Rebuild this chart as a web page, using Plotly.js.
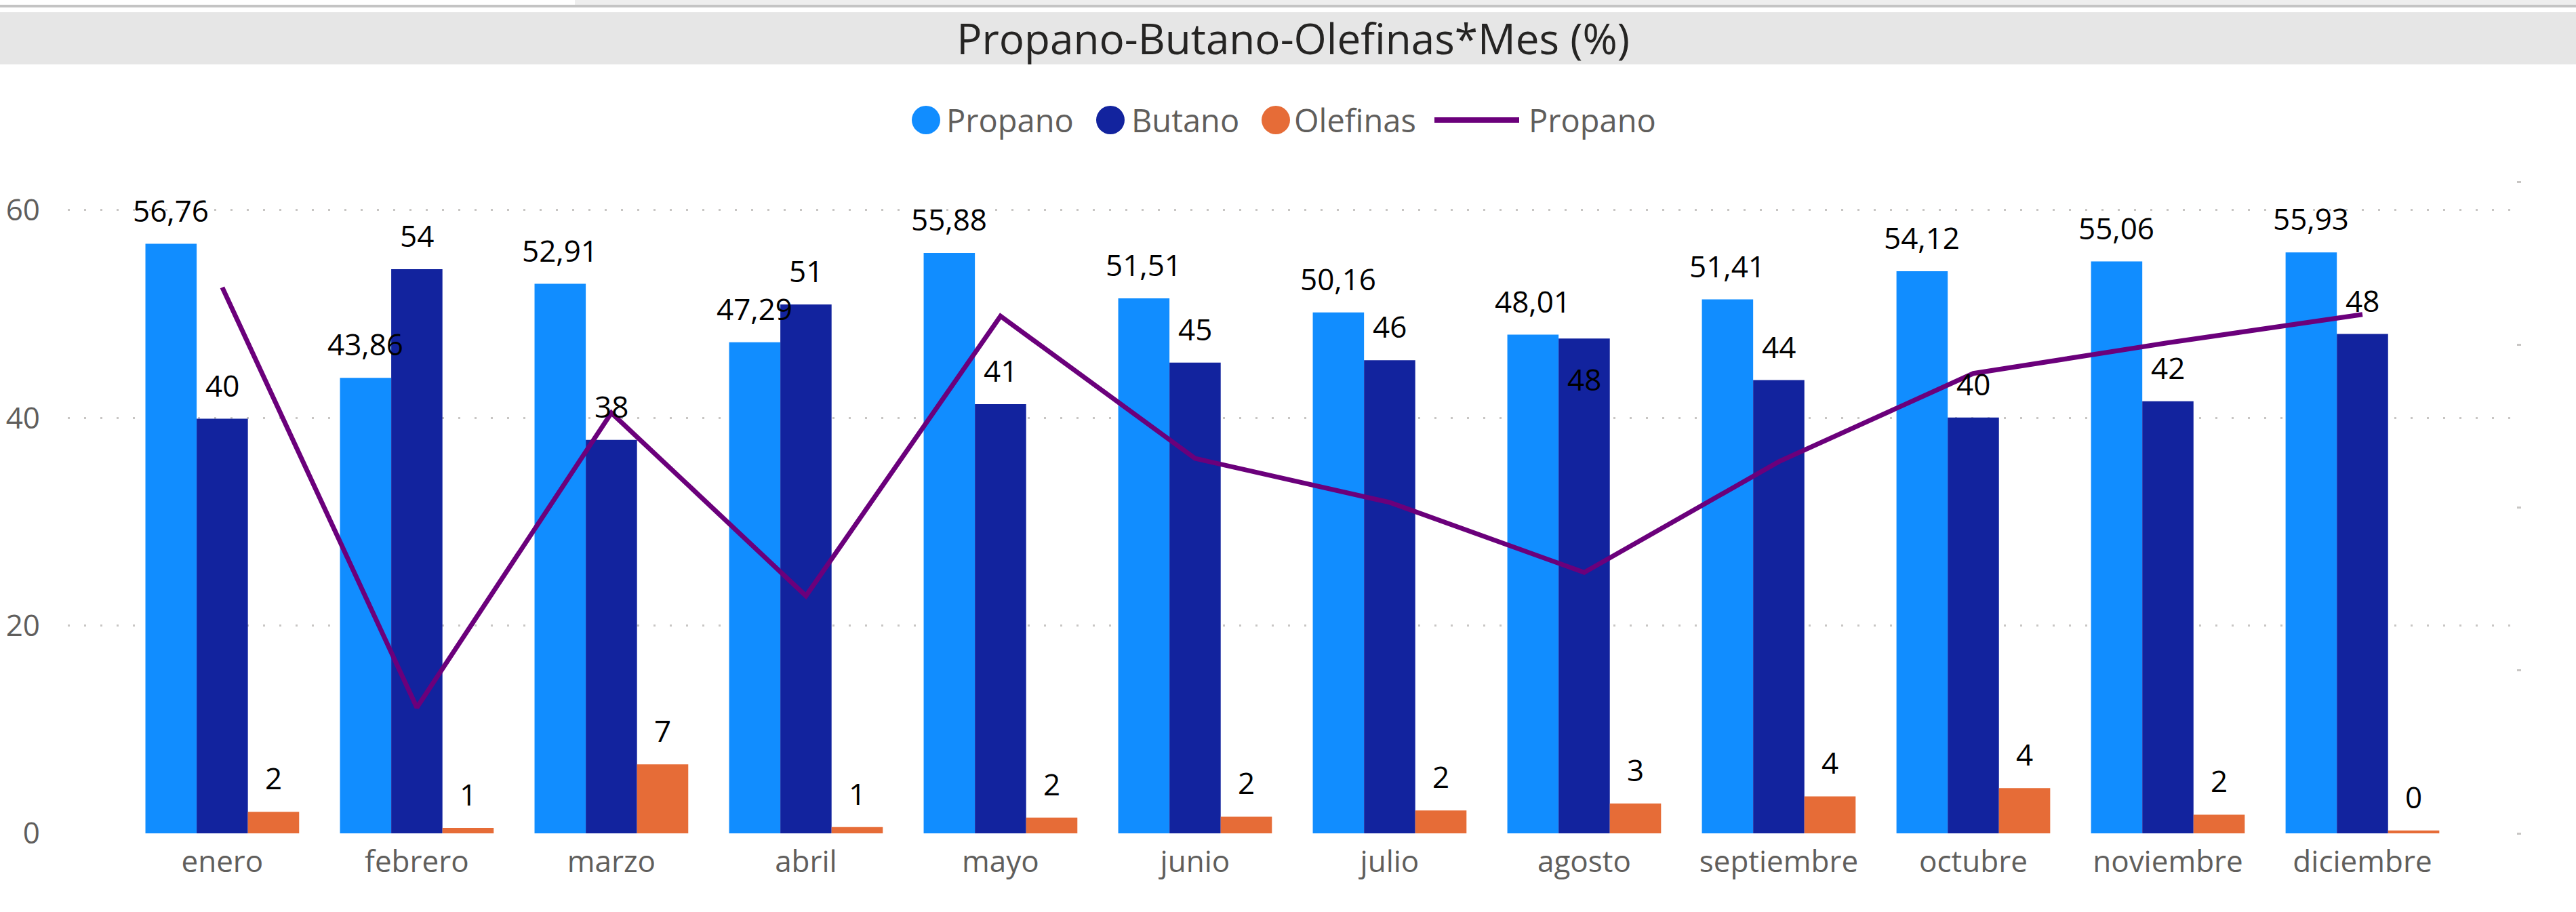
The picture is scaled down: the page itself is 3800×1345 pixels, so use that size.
<!DOCTYPE html>
<html>
<head>
<meta charset="utf-8">
<script src="https://cdn.plot.ly/plotly-3.0.1.min.js"></script>
<style>
  html, body { margin: 0; padding: 0; background: #ffffff; }
  #chart { width: 3800px; height: 1345px; }
</style>
</head>
<body>
<div id="chart"></div>
<script>
// ---------------- DATA ----------------
const months = ['enero','febrero','marzo','abril','mayo','junio','julio','agosto','septiembre','octubre','noviembre','diciembre'];
const propano = [56.76, 43.86, 52.91, 47.29, 55.88, 51.51, 50.16, 48.01, 51.41, 54.12, 55.06, 55.93];
const butano = [39.92, 54.32, 37.88, 50.92, 41.32, 45.32, 45.56, 47.64, 43.64, 40.04, 41.60, 48.08];
const olefinas = [2.08, 0.52, 6.64, 0.60, 1.52, 1.60, 2.20, 2.88, 3.56, 4.36, 1.80, 0.28];
const seriesNames = ['Propano', 'Butano', 'Olefinas', 'Propano'];
const leftTicks = [0, 20, 40, 60];
const rightTicks = [40, 45, 50, 55, 60];
const chartTitle = 'Propano-Butano-Olefinas*Mes (%)';

// ---------------- STYLE ----------------
const FONT = '"Open Sans", "Noto Sans", "DejaVu Sans", sans-serif';
const C_PROP = '#118DFF', C_BUT = '#12239E', C_OLE = '#E66C37', C_LINE = '#6B007B';
const GRID = '#C8C6C4', TICKTXT = '#605E5C';

const W = 3800, Hh = 1345;
const L = 100, R = 3712, T = 262, B = 1229;
const PW = R - L, PH = B - T;
const px2x = px => (px - L) / PW;
const py2y = py => (B - py) / PH;

const BARGAP = 0.21;
const bw = (1 - BARGAP) / 3;

const traces = [
  { type: 'bar', name: seriesNames[0], x: months, y: propano, marker: { color: C_PROP }, showlegend: false, hoverinfo: 'x+y' },
  { type: 'bar', name: seriesNames[1], x: months, y: butano, marker: { color: C_BUT }, showlegend: false, hoverinfo: 'x+y' },
  { type: 'bar', name: seriesNames[2], x: months, y: olefinas, marker: { color: C_OLE }, showlegend: false, hoverinfo: 'x+y' },
  { type: 'scatter', mode: 'lines', name: seriesNames[3], x: months, y: propano, yaxis: 'y2',
    line: { color: C_LINE, width: 7 }, showlegend: false, hoverinfo: 'x+y' }
];

// data labels
const annotations = [];
const fmt2 = v => v.toFixed(2).replace('.', ',');
const fmt0 = v => String(Math.round(v));
const labelSets = [
  { vals: propano, off: -bw, f: fmt2, key: 'P' },
  { vals: butano, off: 0, f: fmt0, key: 'B' },
  { vals: olefinas, off: bw, f: fmt0, key: 'O' }
];
// one label that Power BI moved inside its bar to avoid a collision
const insideLabels = { 'B7': true };
labelSets.forEach(s => {
  s.vals.forEach((v, i) => {
    const inside = insideLabels[s.key + i];
    annotations.push({
      xref: 'x', yref: 'y', x: i + s.off, y: v,
      text: s.f(v), showarrow: false,
      xanchor: 'center', yanchor: 'bottom',
      yshift: inside ? -92 : 18,
      font: { family: FONT, size: 44, color: '#000000' }
    });
  });
});

// custom legend (circles + line) drawn in paper coordinates
const shapes = [
  // power bi header strips
  { type: 'rect', xref: 'paper', yref: 'paper', layer: 'below', x0: px2x(848), x1: px2x(3800), y0: py2y(7), y1: py2y(0), fillcolor: '#EEEEEE', line: { width: 0 } },
  { type: 'rect', xref: 'paper', yref: 'paper', layer: 'below', x0: px2x(0), x1: px2x(3800), y0: py2y(11), y1: py2y(7), fillcolor: '#C4C4C4', line: { width: 0 } },
  { type: 'rect', xref: 'paper', yref: 'paper', layer: 'below', x0: px2x(0), x1: px2x(3800), y0: py2y(95), y1: py2y(18), fillcolor: '#E6E6E6', line: { width: 0 } }
];
const legendItems = [
  { kind: 'circle', color: C_PROP, sx: 1345, tx: 1394, label: seriesNames[0] },
  { kind: 'circle', color: C_BUT, sx: 1617, tx: 1667, label: seriesNames[1] },
  { kind: 'circle', color: C_OLE, sx: 1861, tx: 1907, label: seriesNames[2] },
  { kind: 'line', color: C_LINE, sx: 2116, ex: 2241, tx: 2253, label: seriesNames[3] }
];
const LEG_Y = 177, LEG_R = 21;
legendItems.forEach(it => {
  if (it.kind === 'circle') {
    shapes.push({ type: 'circle', xref: 'paper', yref: 'paper',
      x0: px2x(it.sx), x1: px2x(it.sx + 2 * LEG_R), y0: py2y(LEG_Y + LEG_R), y1: py2y(LEG_Y - LEG_R),
      fillcolor: it.color, line: { width: 0 } });
  } else {
    shapes.push({ type: 'line', xref: 'paper', yref: 'paper',
      x0: px2x(it.sx), x1: px2x(it.ex), y0: py2y(LEG_Y), y1: py2y(LEG_Y),
      line: { color: it.color, width: 8 } });
  }
  annotations.push({ xref: 'paper', yref: 'paper', x: px2x(it.tx), y: py2y(LEG_Y),
    xanchor: 'left', yanchor: 'middle', showarrow: false, text: it.label,
    font: { family: FONT, size: 47, color: TICKTXT } });
});

const layout = {
  width: W, height: Hh,
  margin: { l: L, r: W - R, t: T, b: Hh - B, pad: 0 },
  paper_bgcolor: '#FFFFFF', plot_bgcolor: '#FFFFFF',
  font: { family: FONT, color: TICKTXT },
  separators: ',.',
  showlegend: false,
  barmode: 'group', bargap: BARGAP, bargroupgap: 0,
  title: {
    text: chartTitle,
    font: { family: FONT, size: 62, color: '#252423' },
    xref: 'container', x: 0.502, xanchor: 'center',
    yref: 'container', y: 1 - 58 / Hh, yanchor: 'middle'
  },
  xaxis: {
    type: 'category', categoryorder: 'array', categoryarray: months,
    range: [-0.794, 11.791],
    showgrid: false, zeroline: false, showline: false, ticks: '',
    tickfont: { family: FONT, size: 44, color: TICKTXT },
    ticklabelstandoff: 12
  },
  yaxis: {
    range: [0, 63.13], tickvals: leftTicks, ticktext: leftTicks.map(String),
    showgrid: true, gridcolor: GRID, gridwidth: 3, griddash: '3px,21px',
    zeroline: false, showline: false, ticks: '',
    tickfont: { family: FONT, size: 44, color: TICKTXT },
    ticklabelstandoff: 40
  },
  yaxis2: {
    overlaying: 'y', side: 'right', range: [40, 60.13], tickvals: rightTicks,
    showticklabels: false, showgrid: false, zeroline: false, showline: false,
    ticks: 'outside', ticklen: 6, tickwidth: 3, tickcolor: GRID
  },
  shapes: shapes,
  annotations: annotations
};

Plotly.newPlot('chart', traces, layout, { staticPlot: true, displayModeBar: false });
</script>
</body>
</html>
